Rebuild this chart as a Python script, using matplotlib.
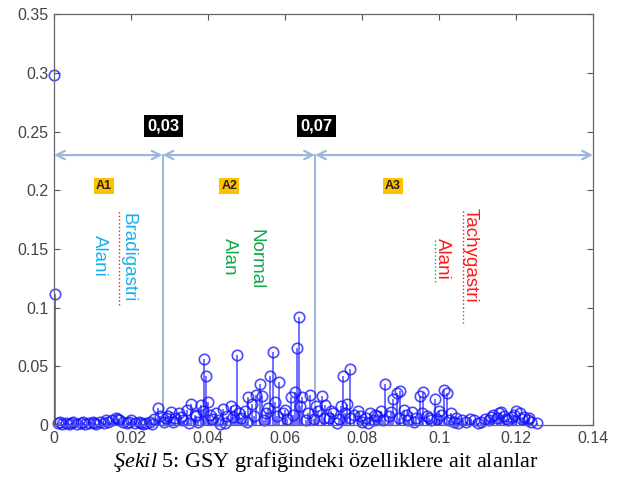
import matplotlib
matplotlib.use('Agg')
import matplotlib.pyplot as plt

# frequency bins and amplitudes
freqs = [0.0000, 0.0003, 0.0010, 0.0020, 0.0030, 0.0040, 0.0050, 0.0060, 0.0070, 0.0080,
         0.0090, 0.0100, 0.0110, 0.0120, 0.0130, 0.0140, 0.0150, 0.0160, 0.0170, 0.0180,
         0.0190, 0.0200, 0.0210, 0.0220, 0.0230, 0.0240, 0.0250, 0.0260, 0.0270, 0.0275,
         0.0285, 0.0295, 0.0305, 0.0315, 0.0325, 0.0335, 0.0345, 0.0355, 0.0365, 0.0375,
         0.0383, 0.0390, 0.0395, 0.0400, 0.0410, 0.0420, 0.0430, 0.0440, 0.0450, 0.0460,
         0.0470, 0.0475, 0.0485, 0.0495, 0.0505, 0.0515, 0.0525, 0.0535, 0.0540, 0.0550,
         0.0560, 0.0568, 0.0575, 0.0585, 0.0595, 0.0605, 0.0615, 0.0625, 0.0632, 0.0637,
         0.0645, 0.0655, 0.0665, 0.0675, 0.0685, 0.0695, 0.0705, 0.0715, 0.0725, 0.0735,
         0.0745, 0.0750, 0.0760, 0.0768, 0.0778, 0.0790, 0.0800, 0.0810, 0.0820, 0.0830,
         0.0840, 0.0850, 0.0860, 0.0870, 0.0880, 0.0890, 0.0898, 0.0908, 0.0920, 0.0930,
         0.0940, 0.0950, 0.0958, 0.0970, 0.0980, 0.0990, 0.1000, 0.1013, 0.1020, 0.1030,
         0.1040, 0.1050, 0.1060, 0.1070, 0.1080, 0.1090, 0.1100, 0.1110, 0.1120, 0.1130,
         0.1140, 0.1150, 0.1160, 0.1170, 0.1180, 0.1190, 0.1200, 0.1210, 0.1220, 0.1230,
         0.1240, 0.1255]
amps = [0.298, 0.112, 0.002, 0.001, 0.002, 0.001, 0.003, 0.001, 0.002, 0.001,
        0.002, 0.003, 0.001, 0.003, 0.002, 0.003, 0.004, 0.006, 0.004, 0.003,
        0.002, 0.004, 0.002, 0.003, 0.001, 0.002, 0.003, 0.005, 0.015, 0.008,
        0.003, 0.008, 0.011, 0.006, 0.010, 0.004, 0.013, 0.018, 0.009, 0.003,
        0.017, 0.056, 0.042, 0.020, 0.005, 0.010, 0.001, 0.014, 0.008, 0.016,
        0.013, 0.060, 0.006, 0.012, 0.024, 0.018, 0.026, 0.035, 0.025, 0.010,
        0.042, 0.062, 0.020, 0.037, 0.010, 0.005, 0.024, 0.028, 0.066, 0.092,
        0.024, 0.004, 0.026, 0.005, 0.012, 0.025, 0.017, 0.006, 0.010, 0.002,
        0.016, 0.042, 0.018, 0.048, 0.009, 0.012, 0.003, 0.006, 0.010, 0.004,
        0.008, 0.012, 0.035, 0.008, 0.022, 0.027, 0.029, 0.013, 0.004, 0.011,
        0.006, 0.025, 0.028, 0.008, 0.004, 0.022, 0.012, 0.030, 0.027, 0.010,
        0.003, 0.002, 0.004, 0.003, 0.005, 0.004, 0.002, 0.003, 0.005, 0.004,
        0.009, 0.006, 0.011, 0.008, 0.004, 0.007, 0.012, 0.010, 0.007, 0.004,
        0.003, 0.002]

# extra low bins that fill the crowded floor of the spectrum
low_freqs = [0.0015, 0.0045, 0.0075, 0.0105, 0.0135, 0.0165, 0.0195, 0.0225, 0.0255,
             0.0290, 0.0310, 0.0330, 0.0350, 0.0370, 0.0388, 0.0405, 0.0425, 0.0445,
             0.0465, 0.0480, 0.0500, 0.0520, 0.0545, 0.0555, 0.0580, 0.0600, 0.0620,
             0.0640, 0.0660, 0.0680, 0.0700, 0.0720, 0.0740, 0.0755, 0.0770, 0.0795,
             0.0815, 0.0835, 0.0855, 0.0875, 0.0895, 0.0915, 0.0935, 0.0955, 0.0975,
             0.0995, 0.1005, 0.1025, 0.1045, 0.1135, 0.1155, 0.1175, 0.1195, 0.1215,
             0.1235]
low_amps = [0.003, 0.002, 0.003, 0.002, 0.004, 0.005, 0.003, 0.002, 0.001,
            0.006, 0.003, 0.007, 0.002, 0.008, 0.012, 0.009, 0.004, 0.002,
            0.007, 0.010, 0.003, 0.008, 0.004, 0.015, 0.008, 0.013, 0.009,
            0.016, 0.010, 0.016, 0.006, 0.012, 0.005, 0.010, 0.006, 0.008,
            0.002, 0.009, 0.004, 0.011, 0.006, 0.009, 0.003, 0.010, 0.006,
            0.005, 0.009, 0.004, 0.006, 0.007, 0.010, 0.005, 0.009, 0.005,
            0.006]

bounds = [0.0282, 0.0678]      # region borders
bound_labels = ['0,03', '0,07']
arrow_y = 0.23
regions = ['A1', 'A2', 'A3']
region_x = [0.013, 0.0455, 0.088]

plt.rcParams['font.family'] = ['Liberation Sans', 'DejaVu Sans']
plt.rcParams['mathtext.fontset'] = 'custom'
plt.rcParams['mathtext.rm'] = 'Liberation Serif'
plt.rcParams['mathtext.it'] = 'Liberation Serif:italic'

fig = plt.figure(figsize=(6.26, 4.87), dpi=100)
ax = fig.add_axes([0.0863, 0.127, 0.861, 0.844])

blue = '#1010FF'
for fx, fy in [(freqs, amps), (low_freqs, low_amps)]:
    ml, sl, bl = ax.stem(fx, fy, basefmt=' ')
    plt.setp(sl, color=blue, lw=1.4, alpha=0.6)
    plt.setp(ml, marker='o', markersize=7.5, markerfacecolor='none',
             markeredgecolor=blue, markeredgewidth=1.2, alpha=0.75, clip_on=False)

# region arrows and borders
acol = '#9BB7DA'
edges = [0.0] + bounds + [0.14]
for a, b in zip(edges[:-1], edges[1:]):
    ax.annotate('', xy=(b, arrow_y), xytext=(a, arrow_y),
                arrowprops=dict(arrowstyle='<->,head_length=0.6,head_width=0.3',
                                color=acol, lw=1.6, shrinkA=0, shrinkB=0))
for b, lab in zip(bounds, bound_labels):
    ax.plot([b, b], [0, arrow_y], color=acol, lw=1.4, zorder=1)
    ax.text(b + 0.0003, 0.255, lab, color='white', fontsize=12, fontweight='bold',
            ha='center', va='center',
            bbox=dict(boxstyle='square,pad=0.2', fc='black', ec='none'))

for x, lab in zip(region_x, regions):
    ax.text(x, 0.2035, lab, fontsize=9, fontweight='bold', color='#222222',
            ha='center', va='center',
            bbox=dict(boxstyle='square,pad=0.15', fc='#FFC000', ec='none'))

# rotated region names
sky = '#1AAEEE'
green = '#12A84A'
red = '#FF1A1A'
fs = 13.5
ax.text(0.0192, 0.143, 'Bradigastri', color=sky, rotation=270, fontsize=fs,
        ha='center', va='center')
ax.text(0.0119, 0.144, 'Alani', color=sky, rotation=270, fontsize=fs,
        ha='center', va='center')
ax.plot([0.0169, 0.0169], [0.102, 0.183], color=red, lw=1, ls=':')

ax.text(0.0525, 0.141, 'Normal', color=green, rotation=270, fontsize=fs,
        ha='center', va='center')
ax.text(0.0455, 0.143, 'Alan', color=green, rotation=270, fontsize=fs,
        ha='center', va='center')

ax.text(0.1081, 0.145, 'Tachygastri', color=red, rotation=270, fontsize=fs,
        ha='center', va='center')
ax.text(0.1008, 0.142, 'Alani', color=red, rotation=270, fontsize=fs,
        ha='center', va='center')
ax.plot([0.1062, 0.1062], [0.0997, 0.183], color=red, lw=1, ls=':')
ax.plot([0.1062, 0.1062], [0.087, 0.0997], color=green, lw=1, ls=':')
ax.plot([0.0990, 0.0990], [0.122, 0.159], color=green, lw=1, ls=':')

ax.set_xlim(0, 0.14)
ax.set_ylim(0, 0.35)
ax.set_xticks([0, 0.02, 0.04, 0.06, 0.08, 0.1, 0.12, 0.14])
ax.set_xticklabels(['0', '0.02', '0.04', '0.06', '0.08', '0.1', '0.12', '0.14'])
ax.set_yticks([0, 0.05, 0.1, 0.15, 0.2, 0.25, 0.3, 0.35])
ax.set_yticklabels(['0', '0.05', '0.1', '0.15', '0.2', '0.25', '0.3', '0.35'])
ax.tick_params(direction='in', top=True, right=True, length=4, width=0.8,
               colors='#555555', labelsize=11.5, labelcolor='#444444', pad=4)
for s in ax.spines.values():
    s.set_color('#666666')
    s.set_linewidth(0.9)

fig.text(0.52, 0.051, r'$\mathit{Şekil\ 5}$: GSY grafiğindeki özelliklere ait alanlar',
         ha='center', va='center', fontsize=16, family='Liberation Serif')

fig.savefig('out.png', dpi=100)
